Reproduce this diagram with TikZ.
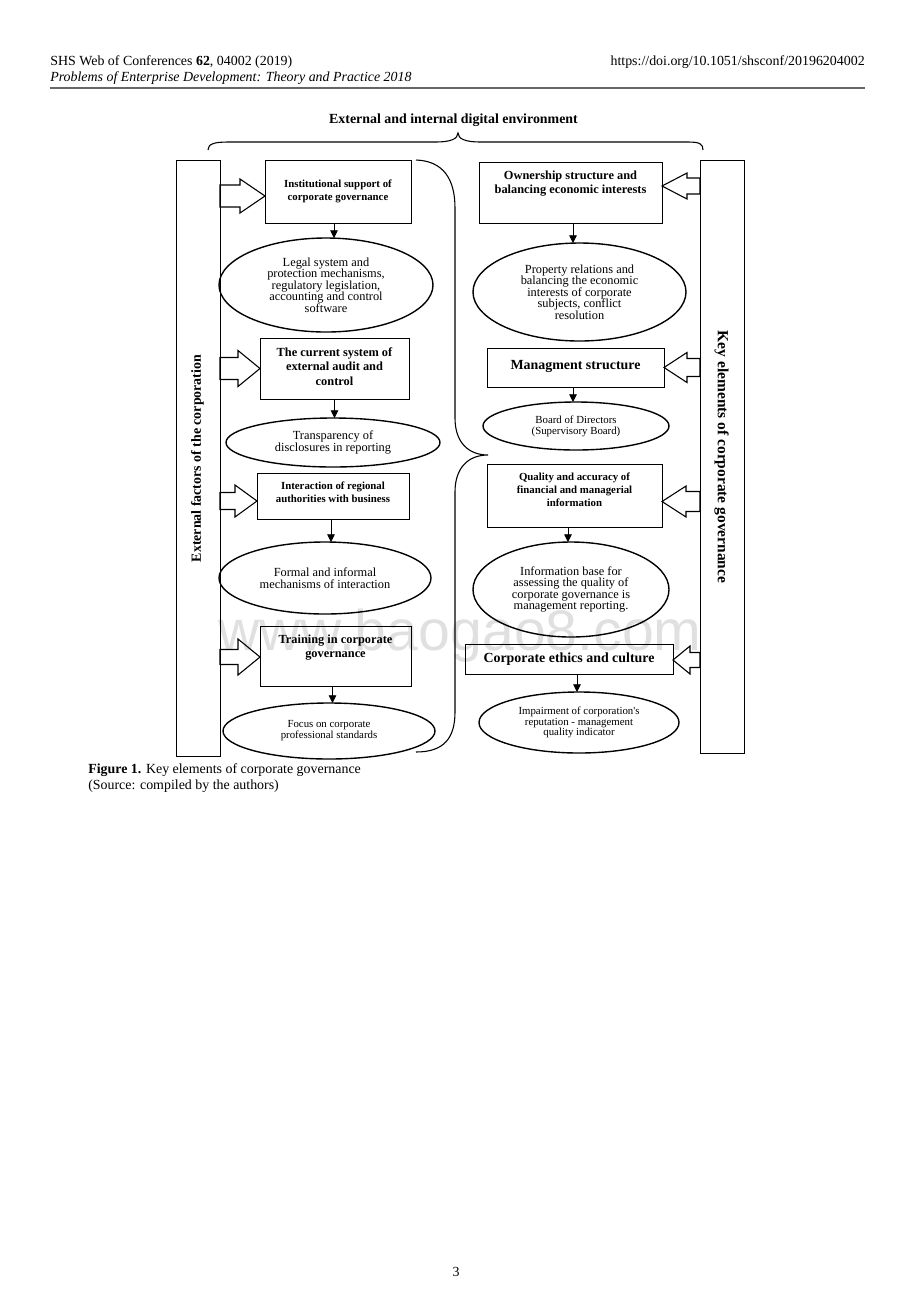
\documentclass[tikz,border=0pt]{standalone}
\usepackage{fontspec}
\setmainfont{Liberation Serif}
\newfontfamily\wmfont{Liberation Sans}
\usetikzlibrary{shapes.geometric,arrows.meta,calc}
\newcommand\blkL[6]{\draw[blk] ($(#2.west)+(0,#3)$) -- ++(-#6,-#5) -- ++(0,#5-#4) -- ($(#1.east |- #2.west)+(0,#3-#4)$) -- ++(0,2*#4) -- ($(#2.west)+(-#6,#3+#4)$) -- ++(0,#5-#4) -- cycle;}
\newcommand\blkR[6]{\draw[blk] ($(#2.east)+(0,#3)$) -- ++(#6,-#5) -- ++(0,#5-#4) -- ($(#1.west |- #2.east)+(0,#3-#4)$) -- ++(0,2*#4) -- ($(#2.east)+(#6,#3+#4)$) -- ++(0,#5-#4) -- cycle;}
\begin{document}
\setlength{\lineskiplimit}{-5pt}
\begin{tikzpicture}[x=0.6467pt,y=-0.6467pt,
 bx/.style 2 args={draw,line width=0.6pt,minimum width=#1*0.6467pt,minimum height=#2*0.6467pt,inner sep=0pt,outer sep=0pt},
 el/.style 2 args={draw,ellipse,line width=0.9pt,minimum width=#1*0.6467pt,minimum height=#2*0.6467pt,inner sep=0pt,outer sep=0pt,align=center},
 fA/.style={font=\fontsize{8}{7.5}\selectfont},
 fB/.style={font=\fontsize{7}{7}\selectfont},
 bA/.style={align=center,inner sep=0pt,font=\bfseries\fontsize{7}{8.4}\selectfont},
 bB/.style={align=center,inner sep=0pt,font=\bfseries\fontsize{8}{9.5}\selectfont},
 bC/.style={align=center,inner sep=0pt,font=\bfseries\fontsize{9}{11}\selectfont},
 arr/.style={line width=0.6pt,-{Triangle[width=5pt,length=5pt]}},
 blk/.style={draw,line width=0.7pt,line join=miter},
 brace/.style={line width=0.7pt},
 plain/.style={inner sep=0pt,font=\fontsize{9}{11}\selectfont},
]
\useasboundingbox (0,0) rectangle (920,1302);
% watermark
\node (wm) [text=black!12, inner sep=0pt, font=\wmfont\fontsize{37}{40}\selectfont] at (460,636) {www.baogao8.com};
% header
\node (h1) [plain, anchor=base west] at (50,65) {SHS Web of Conferences \textbf{62}, 04002 (2019)};
\node (h2) [plain, anchor=base west, font=\itshape\fontsize{9}{11}\selectfont] at (50,81) {Problems of Enterprise Development: Theory and Practice 2018};
\node (h3) [plain, anchor=base east] at (865,65) {https://doi.org/10.1051/shsconf/20196204002};
\coordinate (r1) at (50,88);
\coordinate (r2) at (865,88);
\draw[line width=0.7pt, black!60] (r1) -- (r2);
% title and braces
\node (title) [inner sep=0pt, anchor=base, font=\bfseries\fontsize{9}{11}\selectfont] at (453.5,123) {External and internal digital environment};
\draw[brace] (208,150) .. controls (208,144) and (214,142) .. (228,142) -- (436,142) .. controls (450,142) and (458,139) .. (458,133) .. controls (458,139) and (466,142) .. (480,142) -- (688,142) .. controls (700,142) and (703,144) .. (703,150);
\draw[brace] (416,160) .. controls (444,161) and (455,180) .. (455,208) -- (455,418) .. controls (455,442) and (468,455) .. (488,455) .. controls (468,455) and (455,468) .. (455,492) -- (455,712) .. controls (455,738) and (444,752) .. (416,752);
% tall side boxes
\node[bx={44}{596}] (L) at (198,458) {};
\node[rotate=90, inner sep=0pt, font=\bfseries\fontsize{9}{11}\selectfont] (Lt) at (197.5,458.5) {External factors of the corporation};
\node[bx={44}{593}] (R) at (722,456.5) {};
\node[rotate=-90, inner sep=0pt, font=\bfseries\fontsize{10}{12}\selectfont] (Rt) at (721.5,457) {Key elements of corporate governance};
% left column
\node[bx={146}{63}] (B1) at (338,191.5) {};
\node[bA] (t1) at (338,191.5) {Institutional support of\\corporate governance};
\node[el={214}{94},fA] (E1) at (326,285) {Legal system and\\protection mechanisms,\\regulatory legislation,\\accounting and control\\software};
\node[bx={149}{61}] (B2) at (334.5,368.5) {};
\node[bB] (t2) at (334.5,366.5) {The current system of\\external audit and\\control};
\node[el={214}{49},fA] (E2) at (333,442.5) {Transparency of\\disclosures in reporting};
\node[bx={152}{46}] (B3) at (333,496) {};
\node[bA] (t3) at (333,492) {Interaction of regional\\authorities with business};
\node[el={212}{72},fA] (E3) at (325,578) {Formal and informal\\mechanisms of interaction};
\node[bx={151}{60}] (B4) at (335.5,656) {};
\node[bB] (t4) at (335.5,647.5) {Training in corporate\\governance};
\node[el={212}{56},fB] (E4) at (329,731) {Focus on corporate\\professional standards};
% right column
\node[bx={183}{61}] (R1) at (570.5,192.5) {};
\node[bB] (s1) at (570.5,183.5) {Ownership structure and\\balancing economic interests};
\node[el={213}{98},fA] (F1) at (579.5,292) {Property relations and\\balancing the economic\\interests of corporate\\subjects, conflict\\resolution};
\node[bx={177}{39}] (R2) at (575.5,367.5) {};
\node[bC] (s2) at (575.5,366) {Managment structure};
\node[el={186}{48},fB] (F2) at (576,426) {Board of Directors\\(Supervisory Board)};
\node[bx={175}{63}] (R3) at (574.5,495.5) {};
\node[bA] (s3) at (574.5,490) {Quality and accuracy of\\financial and managerial\\information};
\node[el={196}{95},fA] (F3) at (571,589.5) {Information base for\\assessing the quality of\\corporate governance is\\management reporting.};
\node[bx={208}{30}] (R4) at (569,659) {};
\node[bC] (s4) at (569,659.5) {Corporate ethics and culture};
\node[el={200}{61},fB] (F4) at (579,722.5) {Impairment of corporation\textquotesingle s\\reputation - management\\quality indicator};
% small arrows
\draw[arr] ($(B1.south)+(-4,0)$) -- ($(B1.south |- E1.north)+(-4,0)$);
\draw[arr] (B2.south) -- (B2.south |- E2.north);
\draw[arr] ($(B3.south)+(-2,0)$) -- ($(B3.south |- E3.north)+(-2,0)$);
\draw[arr] ($(B4.south)+(-3,0)$) -- ($(B4.south |- E4.north)+(-3,0)$);
\draw[arr] ($(R1.south)+(2.5,0)$) -- ($(R1.south |- F1.north)+(2.5,0)$);
\draw[arr] ($(R2.south)+(-2.5,0)$) -- ($(R2.south |- F2.north)+(-2.5,0)$);
\draw[arr] ($(R3.south)+(-6.5,0)$) -- ($(R3.south |- F3.north)+(-6.5,0)$);
\draw[arr] ($(R4.south)+(8,0)$) -- ($(R4.south |- F4.north)+(8,0)$);
% block arrows
\blkL{L}{B1}{4.5}{11}{17}{25}
\blkL{L}{B2}{0}{11}{18}{22}
\blkL{L}{B3}{5}{8.5}{16}{22}
\blkL{L}{B4}{1}{7.5}{18}{22}
\blkR{R}{R1}{-6.5}{8}{13}{25}
\blkR{R}{R2}{0}{9}{15}{23}
\blkR{R}{R3}{6}{10}{15.5}{24}
\blkR{R}{R4}{1}{7.5}{14}{17}
% caption and page number
\node (cap1) [plain, anchor=base west] at (88,773) {\textbf{Figure 1.} Key elements of corporate governance};
\node (cap2) [plain, anchor=base west] at (88,789) {(Source: compiled by the authors)};
\node (pg) [plain, anchor=base] at (456,1276) {3};
\end{tikzpicture}
\end{document}
